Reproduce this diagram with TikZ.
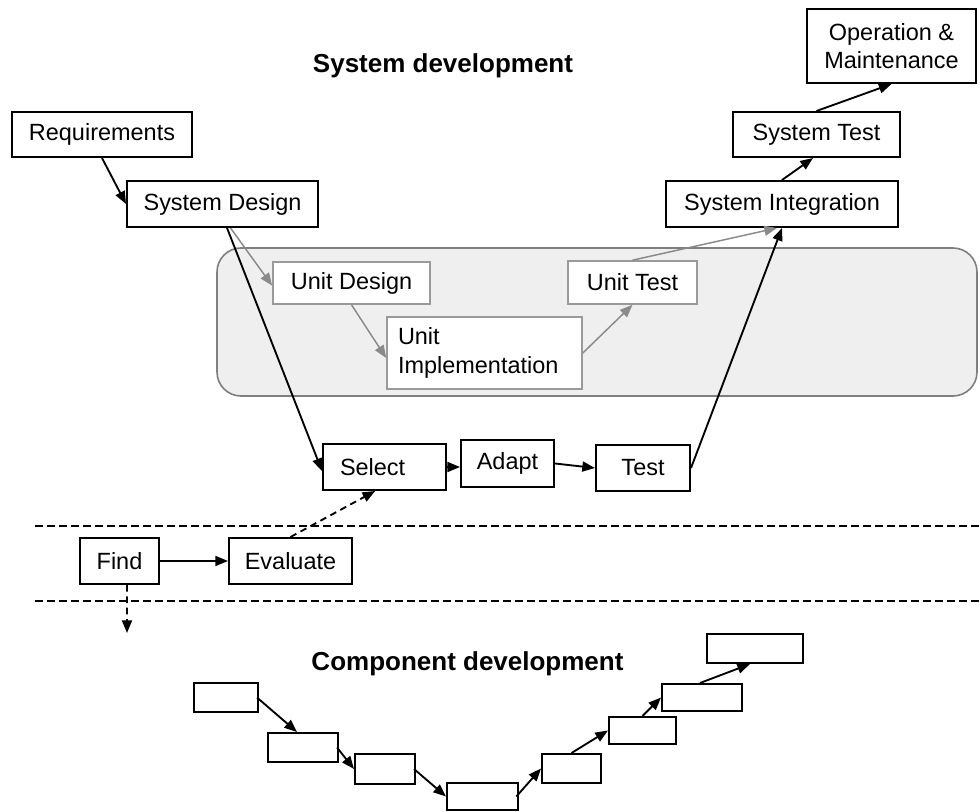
\documentclass[tikz,border=0pt]{standalone}
\usepackage{fontspec}
\setmainfont{Liberation Sans}
\usetikzlibrary{arrows.meta}
\definecolor{panelfill}{HTML}{EFEFEF}
\definecolor{panelline}{HTML}{7F7F7F}
\definecolor{graybox}{HTML}{9A9A9A}
\definecolor{grayarrow}{HTML}{8A8A8A}
\begin{document}
\begin{tikzpicture}[x=0.75pt,y=-0.75pt,
  box/.style={draw=black,line width=1.5pt,fill=white,inner sep=0pt,
    font=\fontsize{17.6pt}{21.5pt}\selectfont},
  ubox/.style={box,draw=graybox,line width=1.2pt},
  cbox/.style={draw=black,line width=1.5pt,fill=white,inner sep=0pt},
  arr/.style={line width=1.4pt,-{Triangle[length=9.5pt,width=7.5pt]}},
  garr/.style={arr,draw=grayarrow,color=grayarrow,line width=1.1pt},
  darr/.style={arr,dash pattern=on 5pt off 3.5pt},
  sep/.style={line width=1.8pt,dash pattern=on 6pt off 3pt},
  title/.style={font=\bfseries\fontsize{19.5pt}{23pt}\selectfont,anchor=base}]
\useasboundingbox (0,0) rectangle (980,812);

% titles
\node[title] (t1) at (443,73) {System development};
\node[title] (t2) at (467.5,670) {Component development};

% grey panel
\draw[fill=panelfill,draw=panelline,line width=1.2pt,rounded corners=18pt]
  (217,248) rectangle (977,396);

% system boxes
\node[box,minimum width=135pt,minimum height=33.75pt] (req) at (102,134.5) {Requirements};
\node[box,minimum width=143.25pt,minimum height=34.5pt] (sd) at (222.5,204) {System Design};
\node[box,minimum width=126.75pt,minimum height=55.5pt,align=center] (om) at (891.5,46) {Operation \&\\Maintenance};
\node[box,minimum width=125.25pt,minimum height=33.75pt] (st) at (816.5,134.5) {System Test};
\node[box,minimum width=174pt,minimum height=34.5pt] (si) at (782,204) {System Integration};

% unit boxes
\node[ubox,minimum width=117.75pt,minimum height=31.5pt] (ud) at (351.5,283) {Unit Design};
\node[ubox,minimum height=54pt,text width=129.75pt,inner xsep=8.25pt,align=left] (ui) at (484.5,353) {Unit\\Implementation};
\node[ubox,minimum width=96.75pt,minimum height=32.25pt] (ut) at (632.5,282.5) {Unit Test};

% component-based row
\node[box,minimum height=34.5pt,text width=66.75pt,inner xsep=12.75pt,align=left] (sel) at (384.5,467) {Select};
\node[box,minimum width=69.75pt,minimum height=35.25pt] (ad) at (507.5,463.5) {Adapt};
\node[box,minimum width=70.5pt,minimum height=34.5pt] (te) at (643,468) {Test};
\node[box,minimum width=59.25pt,minimum height=34.5pt] (find) at (119.5,561) {Find};
\node[box,minimum width=92.25pt,minimum height=34.5pt] (ev) at (290.5,561) {Evaluate};
\coordinate (findend) at (127,633);

% component development boxes
\node[cbox,minimum width=48pt,minimum height=21.75pt] (b1) at (226,697.5) {};
\node[cbox,minimum width=52.5pt,minimum height=21.75pt] (b2) at (303,747.5) {};
\node[cbox,minimum width=45pt,minimum height=22.5pt] (b3) at (385,769) {};
\node[cbox,minimum width=53.25pt,minimum height=20.25pt] (b4) at (482.5,796.5) {};
\node[cbox,minimum width=44.25pt,minimum height=21.75pt] (b5) at (571.5,768.5) {};
\node[cbox,minimum width=50.25pt,minimum height=20.25pt] (b6) at (642.5,730.5) {};
\node[cbox,minimum width=60pt,minimum height=20.25pt] (b7) at (702,697.5) {};
\node[cbox,minimum width=72pt,minimum height=21.75pt] (b8) at (755,648.5) {};

% separators
\draw[sep] (35,526) -- (980,526);
\draw[sep] (35,601) -- (980,601);

% system connectors
\draw[arr] (req.south) -- (sd.west);
\draw[garr] ([xshift=6pt]sd.south) -- ([yshift=-2pt]ud.west);
\draw[arr] ([xshift=3.4pt]sd.south) -- ([yshift=-3pt]sel.west);
\draw[garr] (ud.south) -- ([yshift=-3.75pt]ui.west);
\draw[garr] (ui.east) -- (ut.south);
\draw[garr] (ut.north) -- ([xshift=-3.75pt]si.south);
\draw[arr] (te.east) -- (si.south);
\draw[arr] (si.north) -- ([xshift=-2.6pt]st.south);
\draw[arr] (st.north) -- (om.south);
\draw[arr] (sel.east) -- (sel.east -| ad.west);
\draw[arr] (ad.east) -- (te.west);
\draw[arr] (find.east) -- (ev.west);
\draw[darr] (ev.north) -- ([xshift=-7pt]sel.south);
\draw[darr] ([xshift=5.6pt]find.south) -- (findend);

% component connectors
\draw[arr] ([xshift=-1.5pt]b1.east) -- ([xshift=-4.5pt]b2.north);
\draw[arr] ([xshift=-1.5pt]b2.east) -- (b3.west);
\draw[arr] ([xshift=-1.5pt]b3.east) -- (b4.west);
\draw[arr] ([xshift=-2pt]b4.east) -- (b5.west);
\draw[arr] (b5.north) -- (b6.west);
\draw[arr] (b6.north) -- (b7.west);
\draw[arr] ([xshift=-1.5pt]b7.north) -- ([xshift=-3.75pt]b8.south);
\end{tikzpicture}
\end{document}
